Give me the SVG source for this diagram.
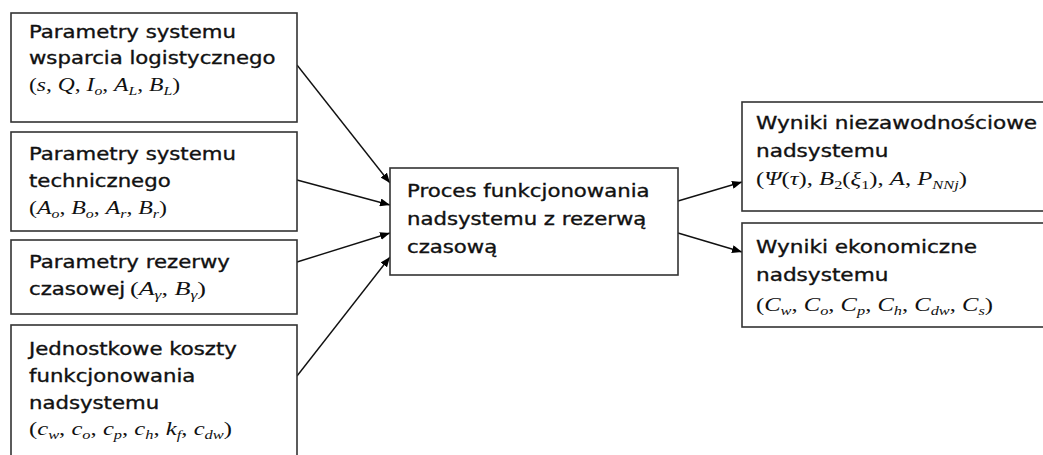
<svg xmlns="http://www.w3.org/2000/svg" width="1043" height="455" viewBox="0 0 1043 455">
  <defs>
    <marker id="arrow" viewBox="0 0 10 8" refX="10" refY="4" markerWidth="10" markerHeight="8" markerUnits="userSpaceOnUse" orient="auto">
      <path d="M0,0 L10,4 L0,8 Z" fill="#000"/>
    </marker>
    <style>
      .box { fill: #fff; stroke: #333; stroke-width: 1.6; }
      .lbl { font-family: "DejaVu Sans", "Verdana", sans-serif; font-size: 18px; fill: #111; stroke: #111; stroke-width: 0.35; }
      .math { font-family: "Liberation Serif", "Times New Roman", serif; font-size: 18px; fill: #111; }
      .it { font-style: italic; }
      .sub { font-size: 12px; }
      .edge { stroke: #111; stroke-width: 1.4; fill: none; marker-end: url(#arrow); }
    </style>
  </defs>

  <rect width="1043" height="455" fill="#fff"/>

  <!-- connectors -->
  <g id="connectors">
    <line class="edge" x1="297" y1="65" x2="390" y2="183"/>
    <line class="edge" x1="297" y1="180" x2="390" y2="205"/>
    <line class="edge" x1="297" y1="262" x2="390" y2="233"/>
    <line class="edge" x1="297" y1="376" x2="390" y2="257"/>
    <line class="edge" x1="678" y1="201" x2="742" y2="182"/>
    <line class="edge" x1="678" y1="233" x2="742" y2="252"/>
  </g>

  <!-- logistic support parameters -->
  <g id="node-logistyka">
    <rect class="box" x="11" y="13" width="286" height="109"/>
    <text class="lbl" transform="translate(29,38) scale(1.18,1)">
      <tspan x="0" y="0">Parametry systemu</tspan>
      <tspan x="0" y="26">wsparcia logistycznego</tspan>
    </text>
    <text class="math" x="29" y="91" textLength="151" lengthAdjust="spacingAndGlyphs">(<tspan class="it">s</tspan>, <tspan class="it">Q</tspan>, <tspan class="it">I</tspan><tspan class="sub it" dy="4">o</tspan><tspan dy="-4">, </tspan><tspan class="it">A</tspan><tspan class="sub it" dy="4">L</tspan><tspan dy="-4">, </tspan><tspan class="it">B</tspan><tspan class="sub it" dy="4">L</tspan><tspan dy="-4">)</tspan></text>
  </g>

  <!-- technical system parameters -->
  <g id="node-techniczny">
    <rect class="box" x="11" y="132" width="286" height="99"/>
    <text class="lbl" transform="translate(29,160) scale(1.18,1)">
      <tspan x="0" y="0">Parametry systemu</tspan>
      <tspan x="0" y="27">technicznego</tspan>
    </text>
    <text class="math" x="29" y="214" textLength="138" lengthAdjust="spacingAndGlyphs">(<tspan class="it">A</tspan><tspan class="sub it" dy="4">o</tspan><tspan dy="-4">, </tspan><tspan class="it">B</tspan><tspan class="sub it" dy="4">o</tspan><tspan dy="-4">, </tspan><tspan class="it">A</tspan><tspan class="sub it" dy="4">r</tspan><tspan dy="-4">, </tspan><tspan class="it">B</tspan><tspan class="sub it" dy="4">r</tspan><tspan dy="-4">)</tspan></text>
  </g>

  <!-- time reserve parameters -->
  <g id="node-rezerwa">
    <rect class="box" x="11" y="240" width="286" height="74"/>
    <text class="lbl" transform="translate(29,268) scale(1.18,1)">
      <tspan x="0" y="0">Parametry rezerwy</tspan>
      <tspan x="0" y="27">czasowej</tspan>
    </text>
    <text class="math" x="130" y="295" textLength="76" lengthAdjust="spacingAndGlyphs">(<tspan class="it">A</tspan><tspan class="sub it" dy="4">γ</tspan><tspan dy="-4">, </tspan><tspan class="it">B</tspan><tspan class="sub it" dy="4">γ</tspan><tspan dy="-4">)</tspan></text>
  </g>

  <!-- unit operating costs -->
  <g id="node-koszty">
    <rect class="box" x="11" y="325" width="286" height="140"/>
    <text class="lbl" transform="translate(29,355) scale(1.18,1)">
      <tspan x="0" y="0">Jednostkowe koszty</tspan>
      <tspan x="0" y="27">funkcjonowania</tspan>
      <tspan x="0" y="54">nadsystemu</tspan>
    </text>
    <text class="math" x="29" y="435" textLength="203" lengthAdjust="spacingAndGlyphs">(<tspan class="it">c</tspan><tspan class="sub it" dy="4">w</tspan><tspan dy="-4">, </tspan><tspan class="it">c</tspan><tspan class="sub it" dy="4">o</tspan><tspan dy="-4">, </tspan><tspan class="it">c</tspan><tspan class="sub it" dy="4">p</tspan><tspan dy="-4">, </tspan><tspan class="it">c</tspan><tspan class="sub it" dy="4">h</tspan><tspan dy="-4">, </tspan><tspan class="it">k</tspan><tspan class="sub it" dy="4">f</tspan><tspan dy="-4">, </tspan><tspan class="it">c</tspan><tspan class="sub it" dy="4">dw</tspan><tspan dy="-4">)</tspan></text>
  </g>

  <!-- central process -->
  <g id="node-proces">
    <rect class="box" x="390" y="168" width="288" height="107"/>
    <text class="lbl" transform="translate(407,197) scale(1.18,1)">
      <tspan x="0" y="0">Proces funkcjonowania</tspan>
      <tspan x="0" y="28">nadsystemu z rezerwą</tspan>
      <tspan x="0" y="56">czasową</tspan>
    </text>
  </g>

  <!-- reliability results -->
  <g id="node-niezawodnosc">
    <rect class="box" x="742" y="102" width="320" height="109"/>
    <text class="lbl" transform="translate(756,129) scale(1.2,1)">
      <tspan x="0" y="0">Wyniki niezawodnościowe</tspan>
      <tspan x="0" y="28">nadsystemu</tspan>
    </text>
    <text class="math" x="756" y="185" textLength="211" lengthAdjust="spacingAndGlyphs">(<tspan class="it">Ψ</tspan>(<tspan class="it">τ</tspan>), <tspan class="it">B</tspan><tspan class="sub" dy="4">2</tspan><tspan dy="-4">(</tspan><tspan class="it">ξ</tspan><tspan class="sub" dy="4">1</tspan><tspan dy="-4">), </tspan><tspan class="it">A</tspan>, <tspan class="it">P</tspan><tspan class="sub it" dy="4">NNj</tspan><tspan dy="-4">)</tspan></text>
  </g>

  <!-- economic results -->
  <g id="node-ekonomia">
    <rect class="box" x="742" y="223" width="320" height="104"/>
    <text class="lbl" transform="translate(756,253) scale(1.2,1)">
      <tspan x="0" y="0">Wyniki ekonomiczne</tspan>
      <tspan x="0" y="28">nadsystemu</tspan>
    </text>
    <text class="math" x="756" y="311" textLength="237" lengthAdjust="spacingAndGlyphs">(<tspan class="it">C</tspan><tspan class="sub it" dy="4">w</tspan><tspan dy="-4">, </tspan><tspan class="it">C</tspan><tspan class="sub it" dy="4">o</tspan><tspan dy="-4">, </tspan><tspan class="it">C</tspan><tspan class="sub it" dy="4">p</tspan><tspan dy="-4">, </tspan><tspan class="it">C</tspan><tspan class="sub it" dy="4">h</tspan><tspan dy="-4">, </tspan><tspan class="it">C</tspan><tspan class="sub it" dy="4">dw</tspan><tspan dy="-4">, </tspan><tspan class="it">C</tspan><tspan class="sub it" dy="4">s</tspan><tspan dy="-4">)</tspan></text>
  </g>
</svg>
